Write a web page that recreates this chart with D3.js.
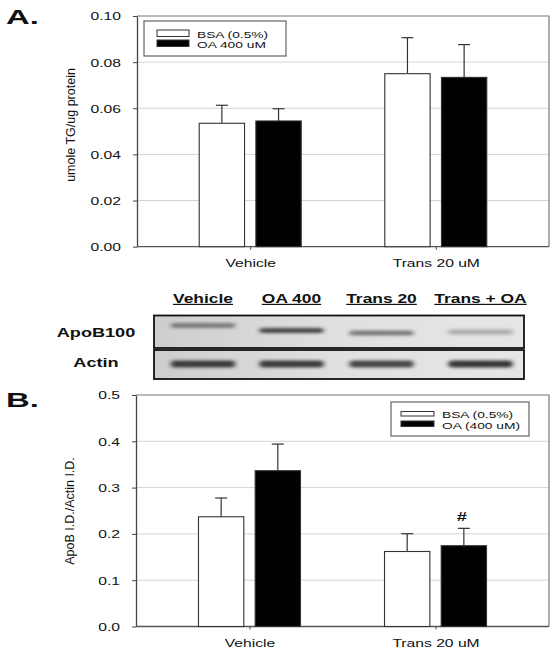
<!DOCTYPE html>
<html><head><meta charset="utf-8">
<script src="https://cdn.jsdelivr.net/npm/d3@7"></script>
<style>
html,body{margin:0;padding:0;background:#fff;}
svg{display:block;font-family:"Liberation Sans",Arial,sans-serif;}
</style></head>
<body>
<svg id="chart" width="558" height="656"></svg>
<script>
// ---- data ----
const categories = ["Vehicle", "Trans 20 uM"];
const seriesA = ["BSA (0.5%)", "OA 400 uM"];
const seriesB = ["BSA (0.5%)", "OA (400 uM)"];
const tgBSA = [0.0535, 0.0750];
const tgBSAerr = [0.0078, 0.0156];
const tgOA = [0.0545, 0.0734];
const tgOAerr = [0.0053, 0.0142];
const apoBSA = [0.237, 0.162];
const apoBSAerr = [0.0405, 0.0384];
const apoOA = [0.3365, 0.1745];
const apoOAerr = [0.0575, 0.0375];
const ticksA = [0, 0.02, 0.04, 0.06, 0.08, 0.10];
const ticksB = [0, 0.1, 0.2, 0.3, 0.4, 0.5];
const blotLanes = ["Vehicle", "OA 400", "Trans 20", "Trans + OA"];
const apoBBand = [0.5, 0.8, 0.55, 0.3];
const actinBand = [0.85, 0.85, 0.8, 0.9];
const seriesFill = ["#ffffff", "#000000"];

const SX = 1.45; // horizontal text stretch of the reference
const svg = d3.select("#chart");
const defs = svg.append("defs");
defs.append("filter").attr("id","blur").attr("x","-30%").attr("y","-100%").attr("width","160%").attr("height","300%")
  .append("feGaussianBlur").attr("stdDeviation","2.6 1.8");
const grad = defs.append("linearGradient").attr("id","blotbg");
grad.append("stop").attr("offset","0%").attr("stop-color","#cdcdcd");
grad.append("stop").attr("offset","50%").attr("stop-color","#e0e0e0");
grad.append("stop").attr("offset","100%").attr("stop-color","#e6e6e6");

function stext(g, x, y, s, size, anchor, weight, sx) {
  return g.append("text")
    .attr("transform", `translate(${x},${y}) scale(${sx || SX},1)`)
    .attr("text-anchor", anchor || "start")
    .attr("font-size", size)
    .attr("font-weight", weight || "normal")
    .attr("fill", "#111")
    .text(s);
}

function panel(opts) {
  const {top, bottom, left, right, domainMax, ticks, fmt, bsa, bsaErr, oa, oaErr, ylabel, ylabelY, series, legend} = opts;
  const g = svg.append("g");
  const x = d3.scalePoint().domain(categories).range([left, right]).padding(0.61);
  const xs = d3.scaleBand().domain(series).range([-51, 51]).paddingInner(0.2);
  const y = d3.scaleLinear().domain([0, domainMax]).range([bottom, top]);

  g.append("g").selectAll("line").data(ticks.filter(t => t > 0 && t < domainMax)).join("line")
    .attr("x1", left).attr("x2", right).attr("y1", d => y(d)).attr("y2", d => y(d))
    .attr("stroke", "#d4d4d4").attr("stroke-width", 1);
  g.append("path").attr("d", `M${left},${top}H${right}V${bottom}`).attr("fill","none").attr("stroke","#777").attr("stroke-width",1.2);

  const ya = g.append("g").attr("transform", `translate(${left},0)`)
    .call(d3.axisLeft(y).tickValues(ticks).tickFormat(d3.format(fmt)).tickSize(4).tickSizeOuter(0));
  ya.select(".domain").attr("stroke", "#444").attr("stroke-width", 1.3);
  ya.selectAll(".tick line").attr("stroke", "#444");
  ya.selectAll(".tick text").attr("x", 0).attr("dy", "0.36em")
    .attr("transform", `translate(-16,0) scale(${SX},1)`)
    .attr("font-size", 10.8).attr("font-family", "Liberation Sans, Arial, sans-serif").attr("fill", "#111");

  const xa = g.append("g").attr("transform", `translate(0,${bottom})`)
    .call(d3.axisBottom(x).tickSize(3).tickSizeOuter(0));
  xa.select(".domain").attr("d", `M${left},0H${right}`).attr("stroke", "#555").attr("stroke-width", 1.3);
  xa.selectAll(".tick line").attr("stroke", "#444");
  xa.selectAll(".tick text").attr("y", 0).attr("dy", 0)
    .attr("transform", `translate(0,20) scale(${SX},1)`)
    .attr("font-size", 10.8).attr("font-family", "Liberation Sans, Arial, sans-serif").attr("fill", "#111");

  const rows = [];
  categories.forEach((c, i) => {
    rows.push({c, s: series[0], v: bsa[i], e: bsaErr[i], f: seriesFill[0]});
    rows.push({c, s: series[1], v: oa[i], e: oaErr[i], f: seriesFill[1]});
  });
  const bg = g.append("g");
  const cxOf = d => x(d.c) + xs(d.s) + xs.bandwidth()/2;
  bg.selectAll("line.err").data(rows).join("line").attr("class","err")
    .attr("x1", cxOf).attr("x2", cxOf)
    .attr("y1", d => y(d.v)).attr("y2", d => y(d.v + d.e)).attr("stroke", "#333").attr("stroke-width", 1.2);
  bg.selectAll("line.cap").data(rows).join("line").attr("class","cap")
    .attr("x1", d => cxOf(d) - 6).attr("x2", d => cxOf(d) + 6)
    .attr("y1", d => y(d.v + d.e)).attr("y2", d => y(d.v + d.e)).attr("stroke", "#333").attr("stroke-width", 1.2);
  bg.selectAll("rect").data(rows).join("rect")
    .attr("x", d => x(d.c) + xs(d.s)).attr("width", xs.bandwidth())
    .attr("y", d => y(d.v)).attr("height", d => y(0) - y(d.v))
    .attr("fill", d => d.f).attr("stroke", "#333").attr("stroke-width", 1.1);

  g.append("text").attr("transform", `translate(${left - 62},${ylabelY}) rotate(-90)`)
    .attr("text-anchor", "middle").attr("font-size", 12.5).attr("fill", "#111").text(ylabel);

  const L = legend;
  const lg = g.append("g");
  lg.append("rect").attr("x", L.x).attr("y", L.y).attr("width", L.w).attr("height", L.h)
    .attr("fill", "#fff").attr("stroke", "#555").attr("stroke-width", 1.1);
  series.forEach((s, i) => {
    lg.append("rect").attr("x", L.sx).attr("y", L.sy[i]).attr("width", L.sw).attr("height", L.sh[i])
      .attr("fill", seriesFill[i]).attr("stroke", "#333").attr("stroke-width", 1);
    stext(lg, L.tx, L.ty[i], s, 9.5);
  });
  return {x, xs, y, g};
}

panel({top: 16, bottom: 246.7, left: 137, right: 549, domainMax: 0.10, ticks: ticksA, fmt: ".2f",
  bsa: tgBSA, bsaErr: tgBSAerr, oa: tgOA, oaErr: tgOAerr, ylabel: "umole TG/ug protein", ylabelY: 125,
  series: seriesA,
  legend: {x: 144, y: 21, w: 142, h: 35, sx: 157, sy: [30, 40], sw: 32, sh: [6.5, 6.5], tx: 197, ty: [37.5, 47.5]}});
stext(svg, 6, 24, "A.", 20.5, "start", "bold", 1.6);

const pB = panel({top: 395, bottom: 626.5, left: 136, right: 549, domainMax: 0.5, ticks: ticksB, fmt: ".1f",
  bsa: apoBSA, bsaErr: apoBSAerr, oa: apoOA, oaErr: apoOAerr, ylabel: "ApoB I.D./Actin I.D.", ylabelY: 511,
  series: seriesB,
  legend: {x: 391, y: 402, w: 138, h: 34, sx: 401, sy: [411.5, 421], sw: 33, sh: [4.5, 5.5], tx: 442, ty: [418, 428.5]}});
stext(svg, 6, 407, "B.", 20.5, "start", "bold", 1.6);
{
  const i = 1;
  const cx = pB.x(categories[i]) + pB.xs(seriesB[1]) + pB.xs.bandwidth()/2;
  stext(svg, cx - 2, pB.y(apoOA[i] + apoOAerr[i]) - 7.5, "#", 13, "middle", "bold", 1.4);
}

// Western blot
const laneX = d3.scaleOrdinal().domain(blotLanes).range([203, 291.5, 381.5, 480.5]);
const blot = svg.append("g");
blotLanes.forEach(l => {
  stext(blot, laneX(l), 303, l, 12, "middle", "bold").style("text-decoration", "underline");
});
const boxes = [{y: 315.5, h: 32.5, label: "ApoB100", ly: 336.5, band: apoBBand, by: [325.5, 330.5, 333, 332], bh: 5},
               {y: 350, h: 29, label: "Actin", ly: 367, band: actinBand, by: [364, 364, 364, 364], bh: 7}];
boxes.forEach(b => {
  blot.append("rect").attr("x", 154).attr("y", b.y).attr("width", 370).attr("height", b.h)
    .attr("fill", "url(#blotbg)");
  const bands = blot.append("g").attr("filter", "url(#blur)");
  blotLanes.forEach((l, i) => {
    bands.append("rect").attr("x", laneX(l) - 32).attr("y", b.by[i] - b.bh/2).attr("width", 64).attr("height", b.bh)
      .attr("rx", 3).attr("fill", "#222").attr("opacity", b.band[i]);
  });
  blot.append("rect").attr("x", 154).attr("y", b.y).attr("width", 370).attr("height", b.h)
    .attr("fill", "none").attr("stroke", "#111").attr("stroke-width", 1.8);
  stext(blot, 96, b.ly, b.label, 12.5, "middle", "bold");
});
</script>
</body></html>
